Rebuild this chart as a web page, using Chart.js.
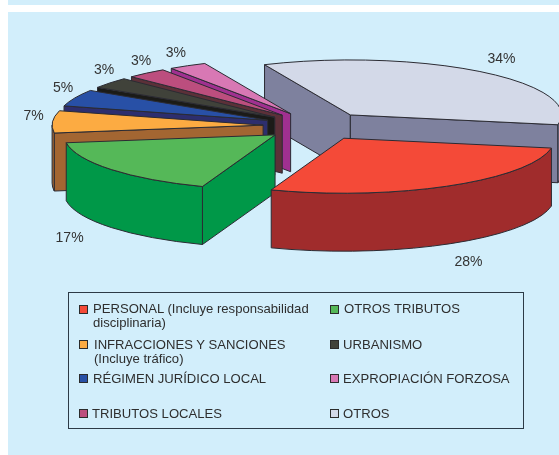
<!DOCTYPE html>
<html>
<head>
<meta charset="utf-8">
<title>Chart</title>
<script src="https://cdn.jsdelivr.net/npm/chart.js@4"></script>
<style>
  html, body { margin: 0; padding: 0; background: #fff; }
  #page { position: relative; width: 559px; height: 455px; overflow: hidden; font-family: "Liberation Sans", Arial, sans-serif; }
  #band { position: absolute; left: 8px; top: 0; width: 551px; height: 5px; background: #d2eefb; }
  #panel { position: absolute; left: 8px; top: 12px; width: 551px; height: 443px; background: #d2eefb; }
  #myChart { position: absolute; left: 0; top: 0; }
  #legend { position: absolute; left: 68px; top: 292px; width: 454px; height: 135px; border: 1px solid #2c3a46; }
  .item { position: absolute; width: 226px; font-size: 13.1px; line-height: 14px; color: #2e2e2e; }
  .box { position: absolute; width: 7px; height: 7px; border: 1px solid #2b2b2b; }
</style>
</head>
<body>
<div id="page">
  <div id="band"></div>
  <div id="panel"></div>
  <canvas id="myChart" width="559" height="455"></canvas>
  <div id="legend"></div>
</div>
<script>
// slices, clockwise starting from the red one
const categories = [
  "PERSONAL (Incluye responsabilidad disciplinaria)",
  "OTROS TRIBUTOS",
  "INFRACCIONES Y SANCIONES (Incluye tráfico)",
  "RÉGIMEN JURÍDICO LOCAL",
  "URBANISMO",
  "TRIBUTOS LOCALES",
  "EXPROPIACIÓN FORZOSA",
  "OTROS",
];
// the printed labels are these rounded
const values = [27.7, 17.1, 6.5, 4.9, 3.2, 3.1, 2.9, 34.49];
const topColors = ["#f44a38", "#55b858", "#fcab42", "#2850a6", "#40423a", "#bc4e7e", "#d878b4", "#d3d9e8"];
const sideColors = ["#a02c2c", "#009848", "#a36632", "#2d2e6e", "#1b1b18", "#5c3038", "#a03090", "#7e819e"];

// back to front
const drawOrder = [7, 6, 5, 4, 3, 2, 1, 0];
// legend reads row by row
const legendOrder = [0, 1, 2, 4, 3, 6, 5, 7];
const legendRows = [309, 345, 379, 414];
const legendBoxTop = [305, 340, 374, 409];
const legendTextX = [[93, 344], [94, 343], [93, 343], [92, 343]];

const squash = 55 / 211; // flat circle -> ellipse
const depth = 58;
const explode = 54;
const labelNudge = [[8, 6], [-23, 2], [5, -5], [10, -4], [13, -4], [10, -1], [0, 0], [6, -2]];

const ctx = document.getElementById("myChart").getContext("2d");

function wedgeInfo(el) {
  const p = el.getProps(["x", "y", "startAngle", "endAngle", "outerRadius"], true);
  const mid = (p.startAngle + p.endAngle) / 2;
  return {
    a1: p.startAngle,
    a2: p.endAngle,
    mid: mid,
    r: p.outerRadius,
    ry: p.outerRadius * squash,
    cx: p.x,
    cy: p.y,
    x: p.x + Math.cos(mid) * explode,
    y: p.y + Math.sin(mid) * explode * squash,
  };
}

function strokeFill(c, fill) {
  c.fillStyle = fill;
  c.fill();
  c.strokeStyle = "#2b2b33";
  c.lineWidth = 1;
  c.stroke();
}

function radialWall(c, w, a, fill) {
  const ex = w.x + Math.cos(a) * w.r;
  const ey = w.y + Math.sin(a) * w.ry;
  c.beginPath();
  c.moveTo(w.x, w.y);
  c.lineTo(ex, ey);
  c.lineTo(ex, ey + depth);
  c.lineTo(w.x, w.y + depth);
  c.closePath();
  strokeFill(c, fill);
}

function arcWall(c, w, from, to, fill) {
  c.beginPath();
  c.ellipse(w.x, w.y, w.r, w.ry, 0, from, to);
  c.ellipse(w.x, w.y + depth, w.r, w.ry, 0, to, from, true);
  c.closePath();
  strokeFill(c, fill);
}

const pie3d = {
  id: "pie3d",
  beforeDatasetDraw(chart, args) {
    const c = chart.ctx;
    const arcs = args.meta.data;
    drawOrder.forEach((i) => {
      const w = wedgeInfo(arcs[i]);

      // side walls that face the viewer
      if (Math.sin(w.a1 - Math.PI / 2) > 0) radialWall(c, w, w.a1, sideColors[i]);
      if (Math.sin(w.a2 + Math.PI / 2) > 0) radialWall(c, w, w.a2, sideColors[i]);
      [[0, Math.PI], [2 * Math.PI, 3 * Math.PI]].forEach((range) => {
        const from = Math.max(w.a1, range[0]);
        const to = Math.min(w.a2, range[1]);
        if (to > from) arcWall(c, w, from, to, sideColors[i]);
      });

      // top face is the library's own arc, flattened
      c.save();
      c.translate(w.x, w.y);
      c.scale(1, squash);
      c.translate(-w.cx, -w.cy);
      arcs[i].draw(c);
      c.restore();

      c.beginPath();
      c.moveTo(w.x, w.y);
      c.ellipse(w.x, w.y, w.r, w.ry, 0, w.a1, w.a2);
      c.closePath();
      c.strokeStyle = "#2b2b33";
      c.lineWidth = 1;
      c.stroke();
    });

    c.save();
    c.font = "14px 'Liberation Sans', Arial, sans-serif";
    c.fillStyle = "#333";
    c.textAlign = "center";
    c.textBaseline = "middle";
    arcs.forEach((el, i) => {
      const w = wedgeInfo(el);
      const s = Math.sin(w.mid);
      const lx = w.x + (w.r + 24) * Math.cos(w.mid) + labelNudge[i][0];
      const ly = w.y + (w.ry + 14) * s + (s > 0 ? depth : 0) + labelNudge[i][1];
      c.fillText(Math.round(values[i]) + "%", lx, ly);
    });
    c.restore();
    return false;
  },
};

new Chart(ctx, {
  type: "pie",
  data: {
    labels: categories,
    datasets: [
      {
        data: values,
        backgroundColor: topColors,
        borderWidth: 0,
        radius: 211,
      },
    ],
  },
  options: {
    responsive: false,
    animation: false,
    rotation: 100.3,
    layout: { padding: { left: 75, bottom: 203 } },
    plugins: { legend: { display: false }, tooltip: { enabled: false } },
  },
  plugins: [pie3d],
});

// legend box
const legend = document.getElementById("legend");
legendOrder.forEach((idx, n) => {
  const row = Math.floor(n / 2);
  const col = n % 2;
  const box = document.createElement("div");
  box.className = "box";
  box.style.background = topColors[idx];
  box.style.left = [79, 330][col] - 69 + "px";
  box.style.top = legendBoxTop[row] - 293 + "px";
  legend.appendChild(box);

  const item = document.createElement("div");
  item.className = "item";
  item.textContent = categories[idx];
  item.style.left = legendTextX[row][col] - 69 + "px";
  item.style.top = legendRows[row] - 7 - 293 + "px";
  legend.appendChild(item);
});
</script>
</body>
</html>
